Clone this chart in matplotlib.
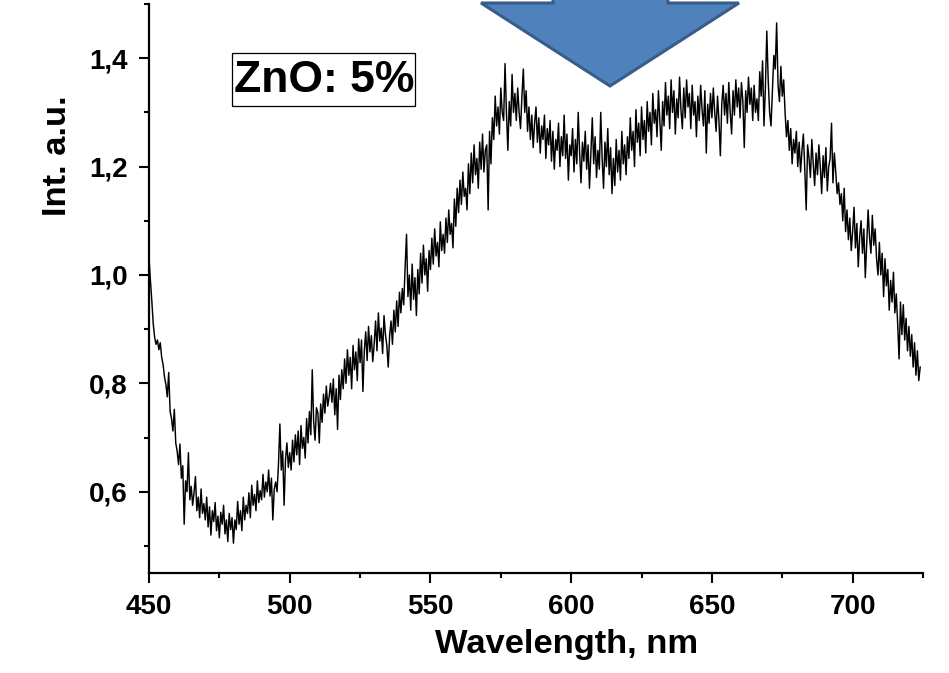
import numpy as np
import matplotlib
matplotlib.use("Agg")
import matplotlib.pyplot as plt
from matplotlib.patches import Polygon, Rectangle
from matplotlib.ticker import MultipleLocator, FuncFormatter

plt.rcParams['font.family'] = ['Liberation Sans', 'DejaVu Sans']
plt.rcParams['font.weight'] = 'bold'

# spectrum sampled every 0.5 nm from 450 nm
wl_start = 450.0
wl_step = 0.5
intensity = [
    1.032, 0.990, 0.952, 0.910, 0.885, 0.872, 0.880, 0.862, 0.875, 0.848,
    0.835, 0.812, 0.798, 0.775, 0.820, 0.748, 0.735, 0.712, 0.752, 0.690,
    0.675, 0.650, 0.688, 0.625, 0.648, 0.540, 0.620, 0.600, 0.672, 0.585,
    0.610, 0.575, 0.598, 0.628, 0.565, 0.590, 0.552, 0.605, 0.560, 0.578,
    0.548, 0.590, 0.535, 0.572, 0.520, 0.565, 0.545, 0.580, 0.528, 0.555,
    0.515, 0.562, 0.540, 0.575, 0.522, 0.548, 0.508, 0.560, 0.530, 0.552,
    0.505, 0.548, 0.530, 0.582, 0.540, 0.565, 0.528, 0.590, 0.548, 0.575,
    0.560, 0.598, 0.552, 0.612, 0.575, 0.595, 0.565, 0.620, 0.580, 0.602,
    0.585, 0.632, 0.590, 0.618, 0.600, 0.640, 0.592, 0.625, 0.548, 0.605,
    0.618, 0.600, 0.650, 0.725, 0.640, 0.675, 0.575, 0.660, 0.690, 0.645,
    0.672, 0.640, 0.695, 0.655, 0.705, 0.668, 0.712, 0.650, 0.722, 0.680,
    0.700, 0.662, 0.735, 0.690, 0.748, 0.705, 0.825, 0.730, 0.695, 0.755,
    0.745, 0.690, 0.762, 0.728, 0.780, 0.745, 0.795, 0.758, 0.775, 0.800,
    0.765, 0.808, 0.742, 0.790, 0.715, 0.815, 0.770, 0.825, 0.790, 0.845,
    0.800, 0.862, 0.815, 0.848, 0.790, 0.870, 0.825, 0.858, 0.805, 0.882,
    0.838, 0.880, 0.785, 0.860, 0.895, 0.842, 0.905, 0.858, 0.888, 0.840,
    0.872, 0.915, 0.860, 0.930, 0.878, 0.902, 0.855, 0.925, 0.890, 0.870,
    0.830, 0.888, 0.915, 0.872, 0.935, 0.895, 0.952, 0.905, 0.968, 0.930,
    0.975, 0.945, 1.015, 1.075, 0.960, 1.000, 0.935, 1.020, 0.955, 0.995,
    0.925, 1.010, 0.965, 1.040, 0.985, 1.055, 1.000, 1.030, 0.970, 1.045,
    1.010, 1.068, 1.020, 1.085, 1.035, 1.060, 1.015, 1.098, 1.045, 1.075,
    1.040, 1.105, 1.060, 1.120, 1.075, 1.095, 1.050, 1.140, 1.090, 1.160,
    1.115, 1.175, 1.130, 1.190, 1.145, 1.160, 1.120, 1.205, 1.150, 1.225,
    1.170, 1.240, 1.185, 1.215, 1.160, 1.245, 1.195, 1.260, 1.190, 1.230,
    1.240, 1.120, 1.265, 1.205, 1.290, 1.250, 1.330, 1.275, 1.310, 1.260,
    1.345, 1.300, 1.285, 1.390, 1.300, 1.230, 1.320, 1.275, 1.370, 1.300,
    1.335, 1.285, 1.345, 1.300, 1.270, 1.330, 1.380, 1.300, 1.340, 1.265,
    1.310, 1.250, 1.295, 1.235, 1.280, 1.310, 1.245, 1.290, 1.225, 1.275,
    1.250, 1.295, 1.215, 1.270, 1.240, 1.285, 1.210, 1.265, 1.195, 1.250,
    1.230, 1.280, 1.200, 1.255, 1.220, 1.295, 1.215, 1.260, 1.175, 1.240,
    1.220, 1.270, 1.190, 1.250, 1.205, 1.300, 1.225, 1.170, 1.245, 1.210,
    1.265, 1.195, 1.240, 1.160, 1.225, 1.290, 1.205, 1.255, 1.180, 1.230,
    1.195, 1.300, 1.215, 1.160, 1.245, 1.200, 1.270, 1.185, 1.235, 1.150,
    1.215, 1.165, 1.250, 1.190, 1.230, 1.175, 1.265, 1.205, 1.240, 1.185,
    1.255, 1.215, 1.290, 1.230, 1.265, 1.200, 1.305, 1.245, 1.280, 1.220,
    1.310, 1.250, 1.285, 1.225, 1.320, 1.265, 1.300, 1.240, 1.335, 1.280,
    1.305, 1.255, 1.340, 1.285, 1.230, 1.320, 1.275, 1.355, 1.295, 1.330,
    1.270, 1.360, 1.300, 1.340, 1.260, 1.325, 1.290, 1.365, 1.305, 1.270,
    1.345, 1.290, 1.360, 1.310, 1.335, 1.270, 1.350, 1.295, 1.320, 1.255,
    1.330, 1.285, 1.350, 1.305, 1.275, 1.340, 1.225, 1.315, 1.280, 1.335,
    1.290, 1.345, 1.300, 1.265, 1.330, 1.285, 1.220, 1.315, 1.350, 1.295,
    1.335, 1.280, 1.355, 1.300, 1.260, 1.340, 1.295, 1.360, 1.310, 1.345,
    1.290, 1.355, 1.320, 1.235, 1.340, 1.300, 1.365, 1.315, 1.345, 1.285,
    1.350, 1.300, 1.325, 1.285, 1.375, 1.330, 1.395, 1.275, 1.345, 1.450,
    1.360, 1.300, 1.275, 1.340, 1.405, 1.380, 1.465, 1.350, 1.320, 1.385,
    1.330, 1.360, 1.300, 1.255, 1.285, 1.230, 1.270, 1.205, 1.250, 1.225,
    1.265, 1.200, 1.245, 1.190, 1.230, 1.260, 1.195, 1.120, 1.240, 1.215,
    1.180, 1.250, 1.205, 1.165, 1.225, 1.185, 1.240, 1.200, 1.150, 1.220,
    1.180, 1.235, 1.155, 1.200, 1.215, 1.280, 1.170, 1.225, 1.190, 1.150,
    1.170, 1.130, 1.150, 1.100, 1.160, 1.080, 1.120, 1.065, 1.105, 1.045,
    1.080, 1.125, 1.050, 1.095, 1.015, 1.070, 1.100, 1.040, 1.085, 0.995,
    1.060, 1.120, 1.070, 1.040, 1.110, 1.055, 1.085, 1.030, 1.000, 1.060,
    1.000, 1.040, 0.960, 1.030, 0.980, 1.010, 0.935, 0.990, 0.950, 1.005,
    0.930, 0.965, 0.910, 0.845, 0.950, 0.890, 0.945, 0.880, 0.920, 0.860,
    0.905, 0.850, 0.890, 0.830, 0.875, 0.815, 0.860, 0.805, 0.830,
]
wavelength = wl_start + wl_step * np.arange(len(intensity))

x_major = [450, 500, 550, 600, 650, 700]
y_major = [0.6, 0.8, 1.0, 1.2, 1.4]

W, H = 949, 673
fig = plt.figure(figsize=(W / 100, H / 100), dpi=100)
ax = fig.add_axes([149 / W, 1 - 573 / H, (923 - 149) / W, (573 - 4) / H])

ax.plot(wavelength, intensity, color='black', lw=1.05)

ax.set_xlim(450, 725)
ax.set_ylim(0.45, 1.5)
ax.set_xticks(x_major)
ax.set_yticks(y_major)
ax.xaxis.set_minor_locator(MultipleLocator(25))
ax.yaxis.set_minor_locator(MultipleLocator(0.1))
ax.yaxis.set_major_formatter(FuncFormatter(lambda v, p: f"{v:.1f}".replace('.', ',')))

for side in ('top', 'right'):
    ax.spines[side].set_visible(False)
for side in ('left', 'bottom'):
    ax.spines[side].set_linewidth(1.6)

ax.tick_params(which='major', length=7, width=1.5, labelsize=20)
ax.tick_params(axis='x', which='major', pad=8)
ax.tick_params(axis='y', which='major', pad=8.5)
ax.tick_params(which='minor', length=3.5, width=1.5)
for lab in ax.get_xticklabels() + ax.get_yticklabels():
    lab.set_fontweight('bold')

ax.set_xlabel('Wavelength, nm', fontsize=24.8, fontweight='bold')
ax.set_ylabel('Int. a.u.', fontsize=24.8, fontweight='bold')
ax.xaxis.set_label_coords(0.539, -0.098)
ax.yaxis.set_label_coords(-0.0985, 0.733)

# sample label in a framed box
fig.add_artist(Rectangle((232 / W, 1 - 106 / H), 183 / W, 53 / H,
                         transform=fig.transFigure, fill=False,
                         edgecolor='black', lw=0.9))
fig.text(324 / W, 1 - 80 / H, 'ZnO: 5%', fontsize=32, fontweight='bold',
         ha='center', va='center')

# blue downward arrow hanging from the top edge
arrow_px = [(553, -40), (553, 3), (481, 3), (610, 86), (739, 3), (668, 3), (668, -40)]
arrow = Polygon([(x / W, 1 - y / H) for x, y in arrow_px], closed=True,
                transform=fig.transFigure, facecolor='#4F81BD',
                edgecolor='#385D8A', lw=2.2, zorder=10)
fig.add_artist(arrow)

fig.savefig('out.png', dpi=100)
